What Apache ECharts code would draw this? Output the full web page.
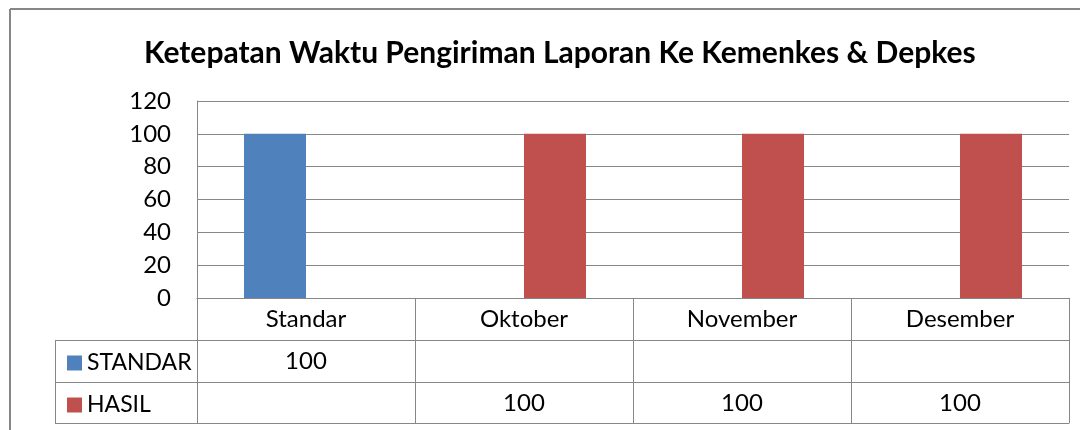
<!DOCTYPE html>
<html>
<head>
<meta charset="utf-8">
<script src="https://cdn.jsdelivr.net/npm/echarts@6/dist/echarts.min.js"></script>
<style>
  html, body { margin: 0; padding: 0; background: #fff; }
  #main { width: 1080px; height: 430px; }
</style>
</head>
<body>
<div id="main"></div>
<script>
var categories = ['Standar', 'Oktober', 'November', 'Desember'];
var standarValues = [100, null, null, null];
var hasilValues = [null, 100, 100, 100];
var yTicks = { min: 0, max: 120, interval: 20 };

var gray = '#878787';
var font = 'Lato';

var chart = echarts.init(document.getElementById('main'));

function rowLabel(arr) {
    return function(v, i) { return arr[i] == null ? '' : String(arr[i]); };
}

var option = {
    animation: false,
    textStyle: { fontFamily: font, color: '#000' },
    title: {
        text: 'Ketepatan Waktu Pengiriman Laporan Ke Kemenkes & Depkes',
        left: 139,
        top: 33,
        textStyle: { fontFamily: font, fontSize: 30, fontWeight: 'bold', color: '#000' }
    },
    legend: {
        orient: 'vertical',
        left: 62,
        top: 346,
        icon: 'rect',
        itemWidth: 15,
        itemHeight: 15,
        itemGap: 18,
        textStyle: { fontFamily: font, fontSize: 23, lineHeight: 24, color: '#000' },
        data: ['STANDAR', 'HASIL']
    },
    grid: { left: 197, right: 11, top: 101, bottom: 132 },
    yAxis: {
        type: 'value',
        min: yTicks.min, max: yTicks.max, interval: yTicks.interval,
        axisLine: { show: true, lineStyle: { color: gray } },
        axisTick: { show: false },
        splitLine: { lineStyle: { color: gray } },
        axisLabel: { margin: 26, fontFamily: font, fontSize: 24, color: '#000' }
    },
    xAxis: [{
        type: 'category',
        data: categories,
        axisLine: { lineStyle: { color: gray } },
        axisTick: { show: true, interval: 0, length: 125, lineStyle: { color: gray } },
        axisLabel: { margin: 7, lineHeight: 28, fontFamily: font, fontSize: 24, color: '#000', interval: 0 }
    }, {
        type: 'category',
        data: categories,
        position: 'bottom',
        offset: 42,
        axisLine: { show: true, lineStyle: { color: gray } },
        axisTick: { show: false },
        axisLabel: { margin: 7, lineHeight: 28, fontFamily: font, fontSize: 24, color: '#000', interval: 0, formatter: rowLabel(standarValues) }
    }, {
        type: 'category',
        data: categories,
        position: 'bottom',
        offset: 84,
        axisLine: { show: true, lineStyle: { color: gray } },
        axisTick: { show: false },
        axisLabel: { margin: 7, lineHeight: 28, fontFamily: font, fontSize: 24, color: '#000', interval: 0, formatter: rowLabel(hasilValues) }
    }, {
        type: 'category',
        data: categories,
        position: 'bottom',
        offset: 125,
        axisLine: { show: true, lineStyle: { color: gray } },
        axisTick: { show: false },
        axisLabel: { show: false }
    }],
    series: [{
        name: 'STANDAR',
        type: 'bar',
        data: standarValues,
        barWidth: 62,
        barGap: '0%',
        itemStyle: { color: '#4F81BD' }
    }, {
        name: 'HASIL',
        type: 'bar',
        data: hasilValues,
        barWidth: 62,
        barGap: '0%',
        itemStyle: { color: '#C0504D' }
    }],
    graphic: [
        // outer chart border (top and left visible)
        { type: 'line', shape: { x1: 10, y1: 9, x2: 1080, y2: 9 }, style: { stroke: gray, lineWidth: 2 } },
        { type: 'line', shape: { x1: 10, y1: 9, x2: 10, y2: 430 }, style: { stroke: gray, lineWidth: 2 } },
        // legend column of the data table
        { type: 'line', shape: { x1: 55, y1: 340.5, x2: 197, y2: 340.5 }, style: { stroke: gray, lineWidth: 1 } },
        { type: 'line', shape: { x1: 55, y1: 382.5, x2: 197, y2: 382.5 }, style: { stroke: gray, lineWidth: 1 } },
        { type: 'line', shape: { x1: 55, y1: 423.5, x2: 197, y2: 423.5 }, style: { stroke: gray, lineWidth: 1 } },
        { type: 'line', shape: { x1: 55.5, y1: 340, x2: 55.5, y2: 424 }, style: { stroke: gray, lineWidth: 1 } }
    ]
};

chart.setOption(option);
</script>
</body>
</html>
